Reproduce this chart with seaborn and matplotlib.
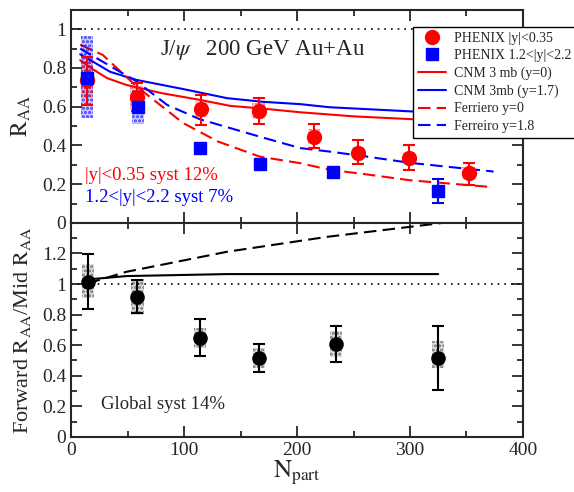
import matplotlib
matplotlib.use('Agg')
import matplotlib.pyplot as plt
import seaborn as sns
from matplotlib.patches import Rectangle
from matplotlib.lines import Line2D
from matplotlib.ticker import MultipleLocator, FixedLocator, FormatStrFormatter

# --- data ---
mid_npart = [14, 58, 115, 166, 215, 254, 299, 352]
mid_raa = [0.74, 0.65, 0.587, 0.578, 0.445, 0.363, 0.334, 0.257]
mid_err_lo = [0.13, 0.07, 0.08, 0.067, 0.06, 0.058, 0.06, 0.061]
mid_err_hi = [0.115, 0.07, 0.073, 0.066, 0.065, 0.067, 0.066, 0.054]
mid_syst = [0.09, 0.06, 0.04, 0.04, 0.04, 0.03, 0.03, 0.03]

fwd_npart = [14, 59, 114, 167, 232, 325]
fwd_raa = [0.747, 0.60, 0.385, 0.305, 0.265, 0.165]
fwd_err = [0.0, 0.0, 0.0, 0.0, 0.0, 0.06]
fwd_syst_lo = [0.54, 0.51, 0.36, 0.28, 0.24, 0.14]
fwd_syst_hi = [0.965, 0.687, 0.41, 0.33, 0.29, 0.19]

ratio_npart = [14.7, 58.7, 114, 166.4, 234.5, 325]
ratio = [1.015, 0.917, 0.645, 0.518, 0.606, 0.518]
ratio_err_lo = [0.176, 0.109, 0.114, 0.091, 0.118, 0.211]
ratio_err_hi = [0.181, 0.109, 0.124, 0.09, 0.119, 0.207]
ratio_syst_lo = [0.906, 0.80, 0.58, 0.45, 0.52, 0.45]
ratio_syst_hi = [1.13, 1.03, 0.71, 0.58, 0.69, 0.63]

cnm_y0_x = [8, 20, 32, 49, 80, 114, 141, 170, 203, 250, 303, 350]
cnm_y0 = [0.84, 0.79, 0.747, 0.712, 0.67, 0.635, 0.604, 0.59, 0.571, 0.55, 0.535, 0.53]
cnm_y17_x = [8, 20, 34.5, 58, 100, 138, 170, 203, 229, 303, 350]
cnm_y17 = [0.87, 0.83, 0.78, 0.738, 0.69, 0.644, 0.625, 0.613, 0.597, 0.575, 0.57]
fer_y0_x = [8, 28, 58, 99, 130, 167, 203, 229, 262, 300, 374]
fer_y0 = [0.92, 0.867, 0.704, 0.516, 0.42, 0.342, 0.308, 0.274, 0.25, 0.22, 0.184]
fer_y18_x = [8, 58, 85, 114, 167, 203, 229, 262, 300, 374]
fer_y18 = [0.90, 0.73, 0.609, 0.535, 0.445, 0.386, 0.368, 0.342, 0.31, 0.265]

cnm_ratio_x = [14.7, 49, 138, 325]
cnm_ratio = [1.03, 1.052, 1.065, 1.065]
fer_ratio_x = [14.7, 49, 138, 227, 300, 340]
fer_ratio = [1.004, 1.08, 1.211, 1.309, 1.374, 1.41]

sns.set_style('ticks')
plt.rcParams['font.family'] = ['Liberation Serif', 'DejaVu Serif']
plt.rcParams['mathtext.fontset'] = 'stix'
plt.rcParams['hatch.linewidth'] = 1.5

fig = plt.figure(figsize=(5.74, 4.92), dpi=100)
ax1 = fig.add_axes([0.124, 0.547, 0.787, 0.433])
ax2 = fig.add_axes([0.124, 0.112, 0.787, 0.435], sharex=ax1)

RED = '#ff0000'
BLUE = '#0000ff'
DASH = (0, (6, 3))
BW = 5.5  # half width of syst boxes


def syst_box(ax, x, lo, hi, color, alpha):
    ax.add_patch(Rectangle((x - BW, lo), 2 * BW, hi - lo, facecolor=color,
                           alpha=alpha * 0.3, lw=0, zorder=2))
    ax.add_patch(Rectangle((x - BW, lo), 2 * BW, hi - lo, fill=False,
                           edgecolor=color, alpha=alpha, hatch='....', lw=0, zorder=2))


# top panel: theory curves
sns.lineplot(x=cnm_y0_x, y=cnm_y0, ax=ax1, color=RED, lw=1.5, label='CNM 3 mb (y=0)')
sns.lineplot(x=cnm_y17_x, y=cnm_y17, ax=ax1, color=BLUE, lw=1.5, label='CNM 3mb (y=1.7)')
sns.lineplot(x=fer_y0_x, y=fer_y0, ax=ax1, color=RED, lw=1.5, linestyle=DASH, label='Ferriero y=0')
sns.lineplot(x=fer_y18_x, y=fer_y18, ax=ax1, color=BLUE, lw=1.5, linestyle=DASH, label='Ferreiro y=1.8')

for x, lo, hi in zip(fwd_npart, fwd_syst_lo, fwd_syst_hi):
    syst_box(ax1, x, lo, hi, BLUE, 0.7)
for x, y, s in zip(mid_npart, mid_raa, mid_syst):
    syst_box(ax1, x, y - s, y + s, RED, 0.5)

ax1.errorbar(mid_npart, mid_raa, yerr=[mid_err_lo, mid_err_hi], fmt='o', color=RED,
             ms=10, capsize=4, elinewidth=1.5, capthick=1.5, zorder=4)
ax1.errorbar(fwd_npart, fwd_raa, yerr=fwd_err, fmt='s', color=BLUE,
             ms=8, capsize=4, elinewidth=1.5, capthick=1.5, zorder=5)
ax1.axhline(1, color='black', ls=(0, (1, 3)), lw=1.2)

# legend: markers only for the data, then the curves
line_handles, line_labels = ax1.get_legend_handles_labels()
data_handles = [Line2D([], [], ls='none', marker='o', ms=10, color=RED),
                Line2D([], [], ls='none', marker='s', ms=9, color=BLUE)]
data_labels = ['PHENIX |y|<0.35', 'PHENIX 1.2<|y|<2.2']
leg = ax1.legend(data_handles + line_handles, data_labels + line_labels,
                 loc='upper left', bbox_to_anchor=(0.757, 0.92), borderaxespad=0,
                 fancybox=False, edgecolor='black', framealpha=1, fontsize=10,
                 handlelength=2.0, handletextpad=0.6, labelspacing=0.32, borderpad=0.35)
leg.get_frame().set_linewidth(1.0)
leg.set_zorder(10)

ax1.text(79, 0.893, r'J/$\psi$   200 GeV Au+Au', fontsize=16.5, va='center')
ax1.text(12, 0.243, '|y|<0.35 syst 12%', color=RED, fontsize=13.5, va='center')
ax1.text(12, 0.129, '1.2<|y|<2.2 syst 7%', color=BLUE, fontsize=13.5, va='center')

ax1.set_ylim(0, 1.1)
ax1.set_xlim(0, 400)
ax1.set_ylabel(r'$\mathrm{R_{AA}}$', fontsize=17)
ax1.yaxis.set_major_locator(MultipleLocator(0.2))
ax1.yaxis.set_minor_locator(MultipleLocator(0.1))
ax1.yaxis.set_major_formatter(FormatStrFormatter('%g'))
plt.setp(ax1.get_xticklabels(), visible=False)

# bottom panel: forward / mid ratio
sns.lineplot(x=cnm_ratio_x, y=cnm_ratio, ax=ax2, color='black', lw=1.5)
sns.lineplot(x=fer_ratio_x, y=fer_ratio, ax=ax2, color='black', lw=1.5, linestyle=DASH)
for x, lo, hi in zip(ratio_npart, ratio_syst_lo, ratio_syst_hi):
    syst_box(ax2, x, lo, hi, 'black', 0.45)
ax2.errorbar(ratio_npart, ratio, yerr=[ratio_err_lo, ratio_err_hi], fmt='o', color='black',
             ms=9.5, capsize=4, elinewidth=1.5, capthick=1.5, zorder=4)
ax2.axhline(1, color='black', ls=(0, (1, 3)), lw=1.2)
ax2.text(26.5, 0.209, 'Global syst 14%', fontsize=13.5, va='center')

ax2.set_ylim(0, 1.4)
ax2.set_xlim(0, 400)
ax2.set_ylabel(r'Forward $\mathrm{R_{AA}}$/Mid $\mathrm{R_{AA}}$', fontsize=16)
ax2.set_xlabel(r'$\mathrm{N_{part}}$', fontsize=18, labelpad=0)
ax2.yaxis.set_major_locator(FixedLocator([0, 0.2, 0.4, 0.6, 0.8, 1.0, 1.2]))
ax2.yaxis.set_minor_locator(MultipleLocator(0.1))
ax2.yaxis.set_major_formatter(FormatStrFormatter('%g'))
ax2.xaxis.set_major_locator(MultipleLocator(100))
ax2.xaxis.set_minor_locator(MultipleLocator(50))

for ax in (ax1, ax2):
    ax.tick_params(which='both', direction='in', top=True, right=True, labelsize=14)
    ax.tick_params(which='major', length=8, width=1.3)
    ax.tick_params(which='minor', length=4, width=1.3)
    for sp in ax.spines.values():
        sp.set_linewidth(1.5)
    ax.yaxis.set_label_coords(-0.085, 0.5)

fig.savefig('out.png', dpi=100)
